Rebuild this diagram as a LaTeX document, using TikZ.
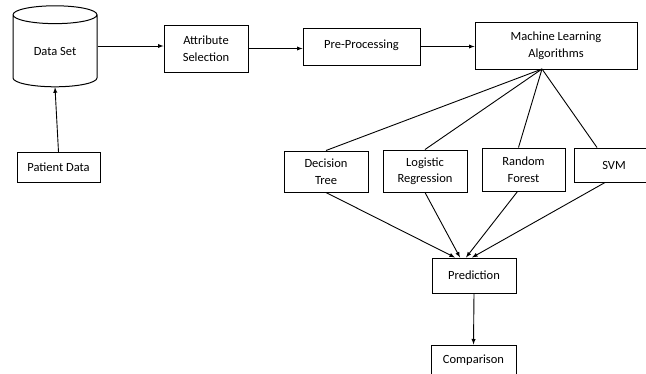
\documentclass[tikz,border=0pt]{standalone}
\usepackage{fontspec}
\setmainfont{Carlito}
\usetikzlibrary{shapes.geometric}
\usetikzlibrary{arrows}

\begin{document}
\begin{tikzpicture}[x=1pt,y=-1pt,>=latex,
  every node/.style={font=\fontsize{12.5}{16.5}\selectfont, align=center},
  box/.style={draw,line width=1pt,rectangle,inner sep=0pt},
  flow/.style={line width=0.9pt,->},
  link/.style={line width=0.9pt}]
\useasboundingbox (0,0) rectangle (646,373);
\clip (0,0) rectangle (646,373);
\node[draw,line width=1pt,cylinder,shape border rotate=90,aspect=0.42,
  minimum width=84pt,minimum height=81pt,inner sep=0pt] (data) at (55,51) {Data Set};
\node[box,minimum width=83pt,minimum height=30pt] (patient) at (58.5,167.5) {Patient Data};
\node[box,minimum width=84pt,minimum height=47pt] (attr) at (206,48.5) {Attribute\\Selection};
\node[box,minimum width=117pt,minimum height=37pt] (pre) at (361.5,46.5) {\raisebox{4pt}{Pre-Processing}};
\node[box,minimum width=162pt,minimum height=47pt] (ml) at (556,45.5) {Machine Learning\\Algorithms};
\coordinate (mlb) at (542,69);
\node[box,minimum width=84pt,minimum height=41pt] (dt) at (326,171.5) {Decision\\Tree};
\node[box,minimum width=84pt,minimum height=42pt] (lr) at (425,171) {Logistic\\Regression};
\node[box,minimum width=83pt,minimum height=43pt] (rf) at (523.5,169.5) {Random\\Forest};
\node[box,minimum width=80pt,minimum height=34pt] (svm) at (614,165) {SVM};
\node[box,minimum width=84pt,minimum height=35pt] (pred) at (474,275.5) {Prediction};
\node[box,minimum width=85pt,minimum height=30pt] (comp) at (473.5,360) {Comparison};

\draw[flow] (patient.north) -- (data.south);
\draw[flow] ([yshift=5pt]data.east) -- ([yshift=5pt]data.east -| attr.west);
\draw[flow] (attr.east) -- (attr.east -| pre.west);
\draw[flow] (pre.east) -- (pre.east -| ml.west);

\draw[link] (mlb) -- (dt.north);
\draw[link] (mlb) -- (lr.north);
\draw[link] (mlb) -- ([xshift=-5pt]rf.north);
\draw[link] (mlb) -- ([xshift=-17pt]svm.north);

\draw[flow] (dt.south) -- ([xshift=-19pt]pred.north);
\draw[flow] (lr.south) -- ([xshift=-14pt]pred.north);
\draw[flow] ([xshift=-6pt]rf.south) -- ([xshift=-8pt]pred.north);
\draw[flow] ([xshift=-9pt]svm.south) -- ([xshift=-2pt]pred.north);
\draw[flow] (pred.south) -- (comp.north);
\end{tikzpicture}
\end{document}
